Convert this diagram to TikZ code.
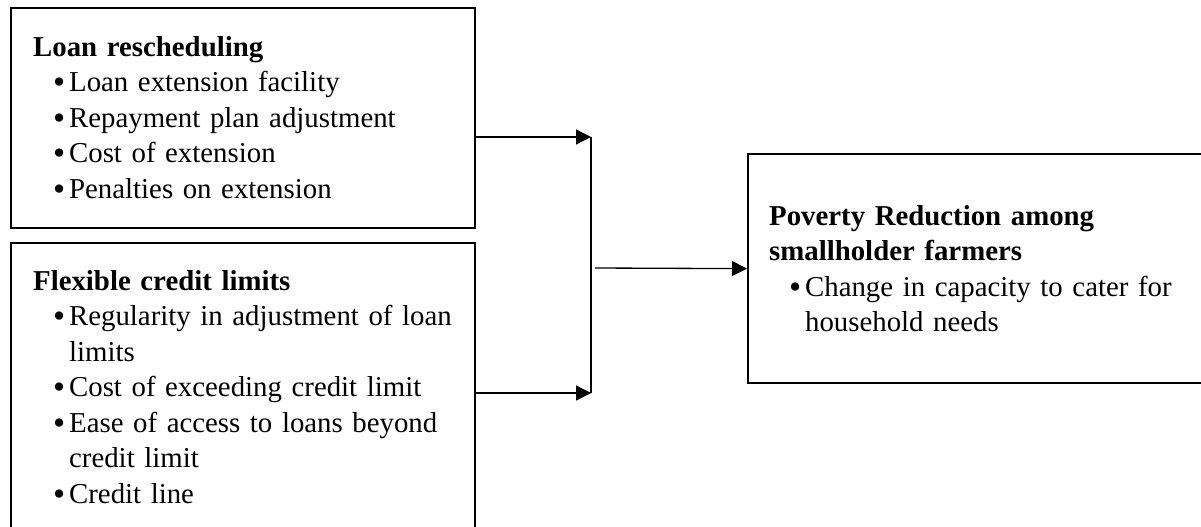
\documentclass[tikz,border=0pt]{standalone}
\usepackage{fontspec}
\setmainfont{Liberation Serif}
\usetikzlibrary{arrows.meta}
\tikzset{
  fw box/.style={draw=black, line width=1.3pt, anchor=north west, align=left,
    inner xsep=0.44cm, inner ysep=0.54cm, font=\fontsize{16.4}{20.2}\selectfont},
  fw link/.style={draw=black, line width=0.75pt},
  fw arrow/.style={fw link, -{Triangle[length=0.3cm,width=0.3cm]}},
}
\newcommand{\fwdot}{\raisebox{-0.07em}{\scalebox{1.2}{\textbullet}}}
\newcommand{\fwitem}[1]{\mbox{\hspace*{0.4cm}\makebox[0.32cm][l]{\fwdot}#1}}
\newcommand{\fwmore}[1]{\mbox{\hspace*{0.72cm}#1}}

\begin{document}
\begin{tikzpicture}
  \useasboundingbox (0,0) rectangle (24.02,-10.54);

  % Independent variables
  \node[fw box, text width=8.4cm, minimum height=4.4cm] (resched) at (0.2,-0.14)
    {\textbf{Loan rescheduling}\\
     \fwitem{Loan extension facility}\\
     \fwitem{Repayment plan adjustment}\\
     \fwitem{Cost of extension}\\
     \fwitem{Penalties on extension}};

  \node[fw box, text width=8.4cm] (limits) at (0.2,-4.84)
    {\textbf{Flexible credit limits}\\
     \fwitem{Regularity in adjustment of loan}\\
     \fwmore{limits}\\
     \fwitem{Cost of exceeding credit limit}\\
     \fwitem{Ease of access to loans beyond}\\
     \fwmore{credit limit}\\
     \fwitem{Credit line}};

  % Dependent variable
  \node[fw box, inner xsep=0.42cm, text width=8.9cm, minimum height=4.58cm] (outcome) at (14.94,-3.06)
    {\textbf{Poverty Reduction among}\\
     \textbf{smallholder farmers}\\
     \fwitem{Change in capacity to cater for}\\
     \fwmore{household needs}};

  % Junction
  \coordinate (jtop) at (11.82,-2.74);
  \coordinate (jbot) at (11.82,-7.86);
  \coordinate (jmid) at (11.9,-5.36);

  \draw[fw arrow] (resched.east |- jtop) -- (jtop);
  \draw[fw arrow] ([xshift=-0.04cm]limits.east |- jbot) -- (jbot);
  \draw[fw link] (jtop) -- (jbot);
  \draw[fw arrow] (jmid) -- (outcome.west);
\end{tikzpicture}
\end{document}
